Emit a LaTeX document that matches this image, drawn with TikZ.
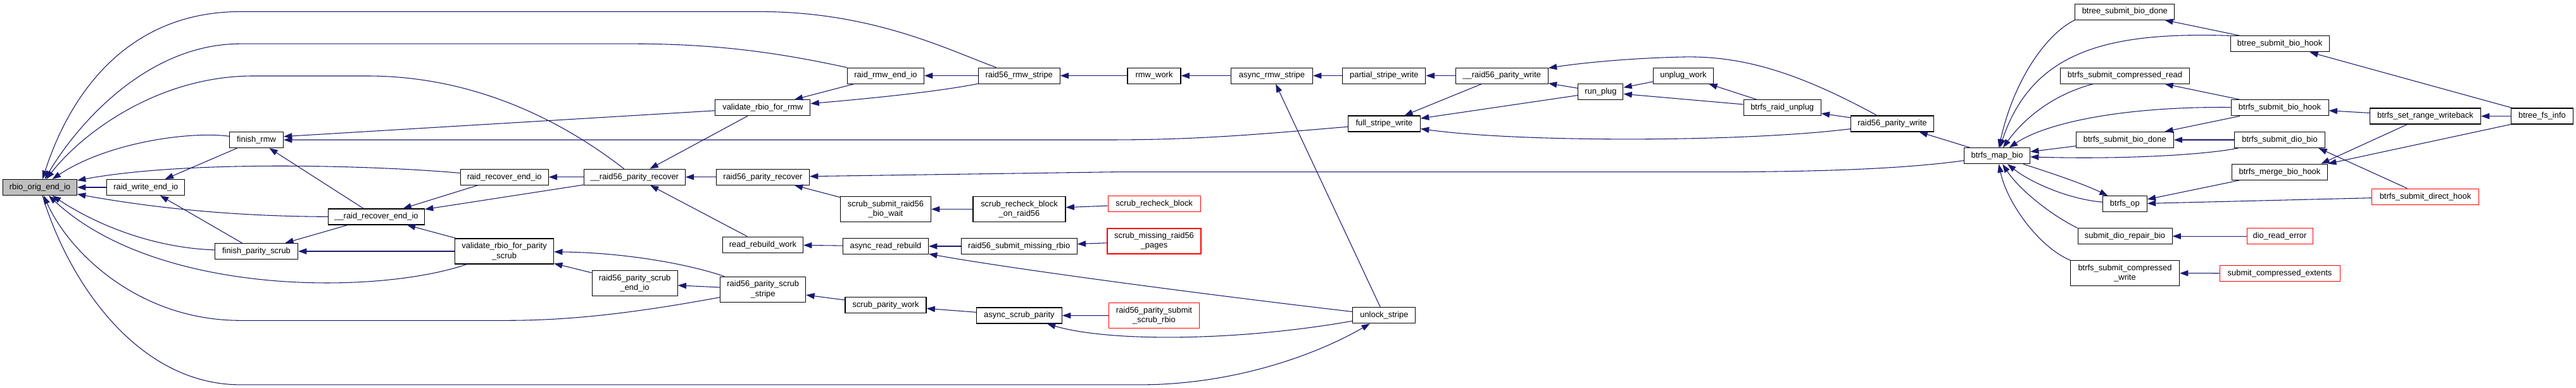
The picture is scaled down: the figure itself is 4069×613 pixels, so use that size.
\documentclass[tikz,border=0pt]{standalone}
\usepackage{fontspec}
\setmainfont{Liberation Sans}
\usepackage{tikz}
\usetikzlibrary{arrows.meta}
\definecolor{edgeblue}{RGB}{25,25,112}
\definecolor{rootgray}{RGB}{191,191,191}

\begin{document}
\begin{tikzpicture}[x=0.75pt, y=-0.75pt,
  every node/.style={font=\fontsize{9.7}{11.4}\selectfont},
  fn/.style={draw=black, fill=white, line width=0.8pt, inner sep=0pt,
    minimum width=#1*0.75pt, minimum height=18.75pt, align=center},
  tall/.style={minimum height=30pt},
  trunc/.style={draw=red},
  root/.style={fill=rootgray},
  call/.style={draw=edgeblue, line width=0.8pt, -{Triangle[length=10pt,width=7pt]}}]
  \useasboundingbox (0,0) rectangle (4069,613);

  \node[fn=117, root] (rbio) at (63,296) {rbio\_orig\_end\_io};
  \foreach \nm/\px/\py/\w/\lbl in {
      rwend/230.4/296/123/raid\_write\_end\_io,
      frmw/405/221/85/finish\_rmw,
      fps/405/397/131/finish\_parity\_scrub,
      urrend/594.5/342.5/152/\_\_raid\_recover\_end\_io,
      rrend/796.7/279.7/139/raid\_recover\_end\_io,
      uprec/1002.3/279.7/160/\_\_raid56\_parity\_recover,
      vrmw/1204.9/170.3/150/validate\_rbio\_for\_rmw,
      prec/1205/279.7/147/raid56\_parity\_recover,
      rrwork/1205/386.6/127/read\_rebuild\_work,
      rmwend/1399/119.6/121/raid\_rmw\_end\_io,
      rmwstripe/1609.7/119.6/129/raid56\_rmw\_stripe,
      arr/1399/389/135/async\_read\_rebuild,
      smr/1609.7/389/183/raid56\_submit\_missing\_rbio,
      spw/1399/482.4/128/scrub\_parity\_work,
      asp/1609.9/498.5/135/async\_scrub\_parity,
      rmww/1823/119.6/84/rmw\_work,
      ars/2009/119.6/129/async\_rmw\_stripe,
      psw/2186.4/119.6/131/partial\_stripe\_write,
      fsw/2186.4/195.5/114/full\_stripe\_write,
      unlock/2186.4/498.3/99/unlock\_stripe,
      upw/2372.3/119.6/146/\_\_raid56\_parity\_write,
      runplug/2528.4/145.3/71/run\_plug,
      unplugw/2659/119.6/95/unplug\_work,
      raidunplug/2815.2/170.3/122/btrfs\_raid\_unplug,
      ppw/2989/195.5/131/raid56\_parity\_write,
      mapbio/3154.5/246.3/104/btrfs\_map\_bio,
      btsbd/3356.3/18.6/157/btree\_submit\_bio\_done,
      scr/3356.5/119.6/204/btrfs\_submit\_compressed\_read,
      bsbd/3356.3/221/154/btrfs\_submit\_bio\_done,
      bop/3356.3/322.3/70/btrfs\_op,
      sdrb/3356.5/373.2/149/submit\_dio\_repair\_bio,
      btsbh/3601/69.4/156/btree\_submit\_bio\_hook,
      bsbh/3601/170.3/154/btrfs\_submit\_bio\_hook,
      sdio/3601/221/143/btrfs\_submit\_dio\_bio,
      merge/3601/271.7/151/btrfs\_merge\_bio\_hook,
      srw/3831/183.5/175/btrfs\_set\_range\_writeback,
      fsinfo/4015.4/183.5/98/btree\_fs\_info} {
    \node[fn=\w] (\nm) at (\px,\py) {\lbl};
  }
  \foreach \nm/\px/\py/\w/\lbl in {
      srb/1823.2/322.3/146/scrub\_recheck\_block,
      sdh/3831/310.6/169/btrfs\_submit\_direct\_hook,
      dre/3601/373.2/104/dio\_read\_error,
      sce/3601/431.8/190/submit\_compressed\_extents} {
    \node[fn=\w, trunc] (\nm) at (\px,\py) {\lbl};
  }
  \node[fn=156, tall] (vpscrub) at (796.6,397) {validate\_rbio\_for\_parity\\\_scrub};
  \node[fn=135, tall] (pscrubend) at (1002.6,447.6) {raid56\_parity\_scrub\\\_end\_io};
  \node[fn=135, tall] (pscrubstripe) at (1205.2,457.2) {raid56\_parity\_scrub\\\_stripe};
  \node[fn=143, tall] (ssbw) at (1399,330.5) {scrub\_submit\_raid56\\\_bio\_wait};
  \node[fn=146, tall] (srbr) at (1610,330.5) {scrub\_recheck\_block\\\_on\_raid56};
  \node[fn=172, tall] (scw) at (3356.5,431.6) {btrfs\_submit\_compressed\\\_write};
  \node[fn=148, tall, trunc] (smrp) at (1823,381) {scrub\_missing\_raid56\\\_pages};
  \node[fn=143, tall, trunc] (pssr) at (1823,498.6) {raid56\_parity\_submit\\\_scrub\_rbio};

  \foreach \a/\b in {rwend/rbio, frmw/rwend, fps/rwend, urrend/frmw, urrend/fps,
      vpscrub/fps, rrend/urrend, uprec/urrend, vpscrub/urrend, uprec/rrend,
      vrmw/uprec, prec/uprec, rrwork/uprec, pscrubend/vpscrub,
      pscrubstripe/pscrubend, rmwend/vrmw, rmwstripe/rmwend, rmww/rmwstripe,
      ars/rmww, psw/ars, unlock/ars, upw/psw, upw/fsw, runplug/fsw, runplug/upw,
      unplugw/runplug, raidunplug/runplug, raidunplug/unplugw, ppw/raidunplug,
      mapbio/ppw, ssbw/prec, srbr/ssbw, srb/srbr, arr/rrwork, smr/arr, smrp/smr,
      spw/pscrubstripe, asp/spw, pssr/asp, bsbh/scr, bsbh/bsbd, bsbd/mapbio,
      sdio/bsbd, merge/bop, sdh/bop, dre/sdrb, sce/scw, btsbh/btsbd,
      fsinfo/btsbh, srw/bsbh, fsinfo/srw} {
    \draw[call] (\a) -- (\b);
  }
  \draw[call] (vrmw) -- ([yshift=4pt]frmw.east);
  \draw[call] (srw) -- ([xshift=-8pt]merge.north east);
  \draw[call] (fsinfo.south west) -- (merge.north east);
  \draw[call] (sdh) -- ([xshift=-8pt]sdio.south east);

  \draw[call] (rmwstripe) .. controls (1500,80) and (1380,18.4) .. (1200,18.4) -- (380,18.4)
    .. controls (200,18.4) and (110,150) .. (rbio);
  \draw[call] (rmwend) .. controls (1250,88) and (1150,69.2) .. (1000,69.2) -- (380,69.2)
    .. controls (230,69.2) and (120,200) .. (rbio);
  \draw[call] (uprec) .. controls (900,200) and (760,120) .. (580,120) -- (400,120)
    .. controls (250,120) and (130,210) .. (rbio);
  \draw[call] (frmw) .. controls (300,207) and (170,225) .. (rbio);
  \draw[call] (rrend) .. controls (600,262) and (300,252) .. (rbio);
  \draw[call] (urrend) .. controls (380,342) and (250,330) .. (rbio);
  \draw[call] (fps) .. controls (250,392) and (160,360) .. (rbio);
  \draw[call] (vpscrub) .. controls (600,465) and (250,470) .. (rbio);
  \draw[call] (pscrubstripe) .. controls (1000,495) and (900,506.3) .. (800,506.3) -- (380,506.3)
    .. controls (220,506.3) and (110,400) .. (rbio);
  \draw[call] (rbio) .. controls (110,450) and (220,607.9) .. (380,607.9) -- (1800,607.9)
    .. controls (1950,607.9) and (2080,560) .. (unlock);

  \draw[call] (fsw) .. controls (2000,211) and (1900,221) .. (1750,221) -- (frmw);
  \draw[call] (ppw) .. controls (2750,225) and (2400,225) .. (fsw);
  \draw[call] (ppw) .. controls (2850,120) and (2760,88) .. (2660,90)
    .. controls (2560,92) and (2480,102) .. (upw);
  \draw[call] (mapbio) .. controls (3000,268) and (2850,271.7) .. (2700,271.7)
    -- (1760,271.7) -- (prec);
  \draw[call] (pscrubstripe) .. controls (1080,415) and (980,399) .. (vpscrub);
  \draw[call] (rmwstripe) .. controls (1480,145) and (1380,155) .. (vrmw);
  \draw[call] (unlock) .. controls (1900,465) and (1600,425) .. (arr);
  \draw[call] (unlock) .. controls (1950,540) and (1750,540) .. (asp);

  \draw[call] (btsbd.south west) .. controls (3230,55) and (3180,130) .. (mapbio);
  \draw[call] (btsbh.north west) .. controls (3330,50) and (3210,80) .. (mapbio);
  \draw[call] (scr) .. controls (3240,150) and (3195,190) .. (mapbio);
  \draw[call] (bsbh) .. controls (3350,168) and (3230,195) .. (mapbio);
  \draw[call] (sdio) .. controls (3480,245) and (3350,252) .. (mapbio);
  \draw[call] (mapbio) .. controls (3230,270) and (3290,290) .. (bop);
  \draw[call] (bop) .. controls (3270,315) and (3210,290) .. (mapbio);
  \draw[call] (sdrb.north west) .. controls (3240,340) and (3190,300) .. (mapbio);
  \draw[call] (scw.north west) .. controls (3220,390) and (3170,320) .. (mapbio);
\end{tikzpicture}
\end{document}
